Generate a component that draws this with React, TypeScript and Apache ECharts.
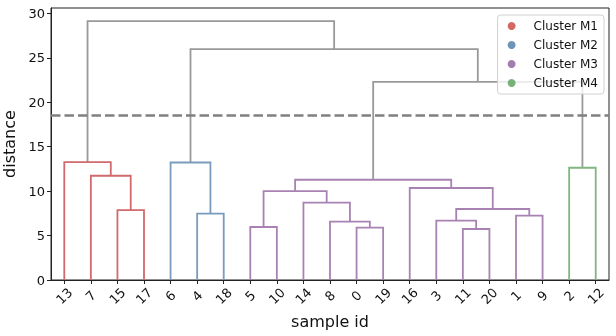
import React, { useEffect, useRef } from "react";
import * as echarts from "echarts";

// Leaf order (as drawn left to right)
const sampleIds = ["13", "7", "15", "17", "6", "4", "18", "5", "10", "14", "8", "0", "19", "16", "3", "11", "20", "1", "9", "2", "12"];

// Merges: node ids 0..20 are leaves (by position), merges get ids 21..40 in order
const mergeLeft = [15, 11, 7, 10, 14, 17, 5, 2, 25, 9, 23, 13, 31, 1, 19, 0, 4, 33, 37, 36];
const mergeRight = [16, 12, 8, 22, 21, 18, 6, 3, 26, 24, 30, 29, 32, 28, 20, 34, 27, 35, 38, 39];
const mergeHeight = [5.74, 5.89, 5.96, 6.56, 6.67, 7.24, 7.46, 7.87, 7.99, 8.7, 10.0, 10.35, 11.28, 11.73, 12.63, 13.27, 13.22, 22.3, 25.98, 29.13];
const mergeCluster = ["M3", "M3", "M3", "M3", "M3", "M3", "M2", "M1", "M3", "M3", "M3", "M3", "M3", "M1", "M4", "M1", "M2", "", "", ""];

const clusterNames = ["M1", "M2", "M3", "M4"];
const clusterColors = ["#c8433f", "#4a79a6", "#8d5b9b", "#58a05a"];
const linkColors = ["#d06a6c", "#7a9bbb", "#a882b2", "#80b780"];
const aboveColor = "#999999";
const threshold = 18.5;
const yTicks = [0, 5, 10, 15, 20, 25, 30];

export default function App() {
  const ref = useRef<HTMLDivElement>(null);
  useEffect(() => {
    document.body.style.margin = "0";
    const chart = echarts.init(ref.current!, null, { renderer: "svg" });
    const n = sampleIds.length;
    const xs: number[] = sampleIds.map((_, i) => i + 0.5);
    const ys: number[] = sampleIds.map(() => 0);
    const series: any[] = [];
    mergeLeft.forEach((a, k) => {
      const b = mergeRight[k];
      const h = mergeHeight[k];
      const xa = xs[a], xb = xs[b];
      const ya = ys[a], yb = ys[b];
      xs.push((xa + xb) / 2);
      ys.push(h);
      const ci = clusterNames.indexOf(mergeCluster[k]);
      series.push({
        type: "line",
        data: [[xa, ya], [xa, h], [xb, h], [xb, yb]],
        symbol: "none",
        silent: true,
        z: ci < 0 ? 1 : 2,
        lineStyle: { color: ci < 0 ? aboveColor : linkColors[ci], width: 1.8, cap: "butt", join: "miter" },
      });
    });
    series.push({
      type: "line",
      data: [[0, threshold], [n, threshold]],
      symbol: "none",
      silent: true,
      z: 3,
      lineStyle: { color: "#808080", width: 2.6, type: [9.5, 4] },
    });
    clusterNames.forEach((c, i) => {
      series.push({
        type: "scatter",
        name: "Cluster " + c,
        data: [],
        itemStyle: { color: clusterColors[i] },
      });
    });
    const font = "DejaVu Sans";
    chart.setOption({
      animation: false,
      textStyle: { fontFamily: font },
      grid: {
        left: 51, right: 7, top: 8, bottom: 56,
        containLabel: false,
        outerBoundsMode: "none",
        show: true, borderColor: "#222", borderWidth: 1, backgroundColor: "transparent",
      },
      legend: {
        orient: "vertical",
        right: 12,
        top: 15,
        icon: "circle",
        itemWidth: 34,
        itemHeight: 8,
        itemGap: 5,
        symbolKeepAspect: true,
        padding: [4, 6, 4, 10],
        backgroundColor: "rgba(255,255,255,0.8)",
        borderColor: "#d0d0d0",
        borderWidth: 1,
        borderRadius: 3,
        textStyle: { fontFamily: font, fontSize: 12, color: "#111", lineHeight: 14 },
        data: clusterNames.map((c) => "Cluster " + c),
        z: 10,
      },
      xAxis: {
        type: "value",
        min: 0,
        max: n,
        name: "sample id",
        nameLocation: "middle",
        nameGap: 32,
        nameTextStyle: { fontFamily: font, fontSize: 16, color: "#111" },
        splitLine: { show: false },
        axisLine: { show: true, lineStyle: { color: "#222", width: 1 } },
        axisTick: { show: true, length: 4, lineStyle: { color: "#222" }, customValues: sampleIds.map((_, i) => i + 0.5) },
        axisLabel: {
          customValues: sampleIds.map((_, i) => i + 0.5),
          formatter: (v: number) => sampleIds[Math.round(v - 0.5)] ?? "",
          rotate: 45,
          align: "center",
          verticalAlign: "middle",
          margin: 16,
          fontFamily: font,
          fontSize: 13,
          color: "#111",
        },
      },
      yAxis: {
        type: "value",
        min: 0,
        max: 30.6,
        name: "distance",
        nameLocation: "middle",
        nameGap: 27,
        nameTextStyle: { fontFamily: font, fontSize: 16, color: "#111" },
        splitLine: { show: false },
        axisLine: { show: true, lineStyle: { color: "#222", width: 1 } },
        axisTick: { show: true, length: 4, lineStyle: { color: "#222" }, customValues: yTicks },
        axisLabel: { customValues: yTicks, fontFamily: font, fontSize: 13, color: "#111", margin: 6 },
      },
      series,
    });
    return () => chart.dispose();
  }, []);
  return <div ref={ref} style={{ position: "fixed", left: 0, top: 0, width: 616, height: 336 }} />;
}
